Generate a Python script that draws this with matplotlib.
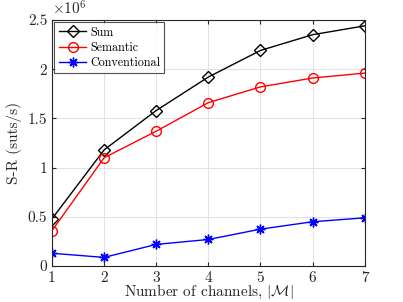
import numpy as np
import matplotlib
matplotlib.use('Agg')
import matplotlib.pyplot as plt
from matplotlib.ticker import FuncFormatter

# data (in units of 1e6 suts/s)
channels = [1, 2, 3, 4, 5, 6, 7]
sum_rate = [0.48, 1.18, 1.58, 1.92, 2.19, 2.35, 2.44]
semantic = [0.36, 1.10, 1.37, 1.66, 1.82, 1.91, 1.96]
conventional = [0.13, 0.088, 0.22, 0.27, 0.375, 0.45, 0.49]

plt.rcParams['font.family'] = 'serif'
plt.rcParams['font.serif'] = ['cmr10', 'DejaVu Serif']
plt.rcParams['mathtext.fontset'] = 'cm'
plt.rcParams['axes.unicode_minus'] = False

fig = plt.figure(figsize=(4.03, 3.02), dpi=100)
ax = fig.add_axes([0.129, 0.119, 0.776, 0.815])

ax.plot(channels, sum_rate, '-', color='k', marker='D', mfc='none', mec='k', ms=6, mew=1.0, lw=1.0, label='Sum')
ax.plot(channels, semantic, '-', color='r', marker='o', mfc='none', mec='r', ms=7, mew=1.0, lw=1.0, label='Semantic')
ax.plot(channels, conventional, '-', color='b', marker=(8, 2, 0), mfc='b', mec='b', ms=7, mew=1.0, lw=1.0, label='Conventional')

ax.set_xlim(1, 7)
ax.set_ylim(0, 2.5)
ax.set_xticks(channels)
ax.set_yticks([0, 0.5, 1, 1.5, 2, 2.5])
ax.yaxis.set_major_formatter(FuncFormatter(lambda v, p: '%g' % v))
ax.grid(True, color='#e3e3e3', lw=0.8)
ax.set_axisbelow(True)
ax.tick_params(direction='in', top=True, right=True, labelsize=11, colors='#262626', length=3)
for s in ax.spines.values():
    s.set_color('#262626')
    s.set_linewidth(0.8)

ax.set_xlabel(r'Number of channels, $|\mathcal{M}|$', fontsize=11, labelpad=-1, color='#262626')
ax.set_ylabel('S-R (suts/s)', fontsize=11, labelpad=4, color='#262626')
ax.text(0.0, 1.01, r'$\times10^{6}$', transform=ax.transAxes, fontsize=11, va='bottom', ha='left', color='#262626')

leg = ax.legend(loc='upper left', fontsize=8.7, fancybox=False, edgecolor='#262626',
                borderaxespad=0.2, handlelength=2.3, handletextpad=0.3, labelspacing=0.25, borderpad=0.35)
leg.get_frame().set_linewidth(0.8)

fig.savefig('out.png', dpi=100)
